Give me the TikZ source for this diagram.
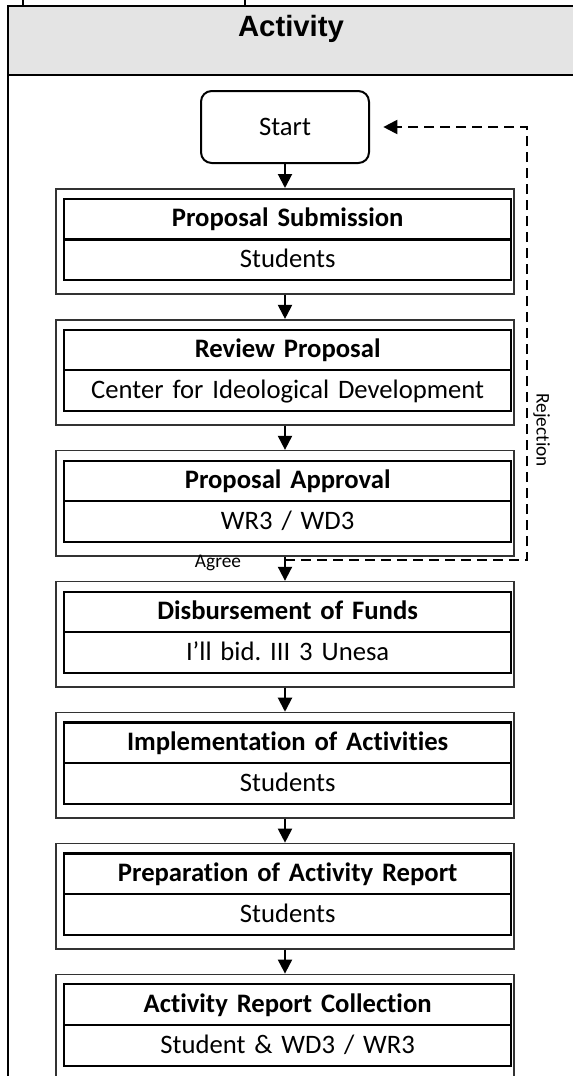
\documentclass[tikz,border=0pt]{standalone}
\usepackage{fontspec}
\setmainfont{Carlito}[Ligatures=NoCommon]
\newfontfamily\headfont{Liberation Sans}
\usetikzlibrary{positioning,arrows.meta,shapes.multipart}
\definecolor{headgray}{RGB}{228,228,228}
\newcommand{\rowstrut}{\rule[-8.5pt]{0pt}{28.5pt}}
\frenchspacing
\tikzset{
>={Triangle[length=10.5pt,width=10.5pt]},
flow/.style={->, line width=1.5pt},
backflow/.style={->, line width=1.5pt, dash pattern=on 7.5pt off 4.5pt},
rule/.style={line width=1.5pt},
}

\begin{document}
\begin{tikzpicture}
    [x=0.75pt, y=-0.75pt,
    node distance=18pt,
    startbox/.style={draw, line width=1.5pt, rounded corners=8pt, minimum width=126pt, minimum height=54pt, font=\fontsize{20}{24}\selectfont},
    stagebox/.style={draw=black!80, line width=1.2pt, minimum width=343.5pt, minimum height=79pt, inner sep=0pt},
    cardbox/.style={rectangle split, rectangle split parts=2, draw, line width=1.6pt, text width=335pt, align=center, inner xsep=0pt, inner ysep=0.2pt, font=\fontsize{20}{24}\selectfont},
    smalltext/.style={font=\fontsize{14.5}{17}\selectfont, inner sep=1pt}
    ]
    \useasboundingbox (0,0) rectangle (573,1076);

    % table frame
    \draw[rule] (23,-2) -- (23,6);
    \draw[rule] (245,-2) -- (245,6);
    \draw[rule, fill=headgray] (8,6) rectangle (580,75);
    \draw[rule] (8,75) -- (8,1080);
    \node [font=\headfont\bfseries\fontsize{22}{26}\selectfont] (title) at (291,29) {Activity};

    \node [startbox] (start) at (285,127) {Start};

    \node [stagebox, below=of start] (s1) {};
    \node [cardbox] (c1) at ([xshift=2pt,yshift=1.5pt]s1.center)
    {
        \bfseries\rowstrut Proposal Submission
        \nodepart{two}\rowstrut Students
    };

    \node [stagebox, below=of s1] (s2) {};
    \node [cardbox] (c2) at ([xshift=2pt,yshift=1.5pt]s2.center)
    {
        \bfseries\rowstrut Review Proposal
        \nodepart{two}\rowstrut Center for Ideological Development
    };

    \node [stagebox, below=of s2] (s3) {};
    \node [cardbox] (c3) at ([xshift=2pt,yshift=1.5pt]s3.center)
    {
        \bfseries\rowstrut Proposal Approval
        \nodepart{two}\rowstrut WR3 / WD3
    };

    \node [stagebox, below=of s3] (s4) {};
    \node [cardbox] (c4) at ([xshift=2pt,yshift=1.5pt]s4.center)
    {
        \bfseries\rowstrut Disbursement of Funds
        \nodepart{two}\rowstrut I'll bid. III 3 Unesa
    };

    \node [stagebox, below=of s4] (s5) {};
    \node [cardbox] (c5) at ([xshift=2pt,yshift=1.5pt]s5.center)
    {
        \bfseries\rowstrut Implementation of Activities
        \nodepart{two}\rowstrut Students
    };

    \node [stagebox, below=of s5] (s6) {};
    \node [cardbox] (c6) at ([xshift=2pt,yshift=1.5pt]s6.center)
    {
        \bfseries\rowstrut Preparation of Activity Report
        \nodepart{two}\rowstrut Students
    };

    \node [stagebox, below=of s6] (s7) {};
    \node [cardbox] (c7) at ([xshift=2pt,yshift=1.5pt]s7.center)
    {
        \bfseries\rowstrut Activity Report Collection
        \nodepart{two}\rowstrut Student \& WD3 / WR3
    };

    \draw[flow] (start) -- (s1);
    \draw[flow] (s1) -- (s2);
    \draw[flow] (s2) -- (s3);
    \draw[flow] (s3) -- (s4);
    \draw[flow] (s4) -- (s5);
    \draw[flow] (s5) -- (s6);
    \draw[flow] (s6) -- (s7);

    % rejection loop
    \coordinate (fork) at ([yshift=-2.5pt]s3.south);
    \coordinate (rejx) at (527,0);
    \coordinate (back) at ([xshift=10pt]start.east);
    \draw[backflow] (fork) -- (fork -| rejx)
        -- node[smalltext, pos=0.3, anchor=south, rotate=-90, inner sep=4pt] (rej) {Rejection} (rejx |- back)
        -- (back);
    \node [smalltext] (agree) at (218,563) {Agree};

\end{tikzpicture}
\end{document}
